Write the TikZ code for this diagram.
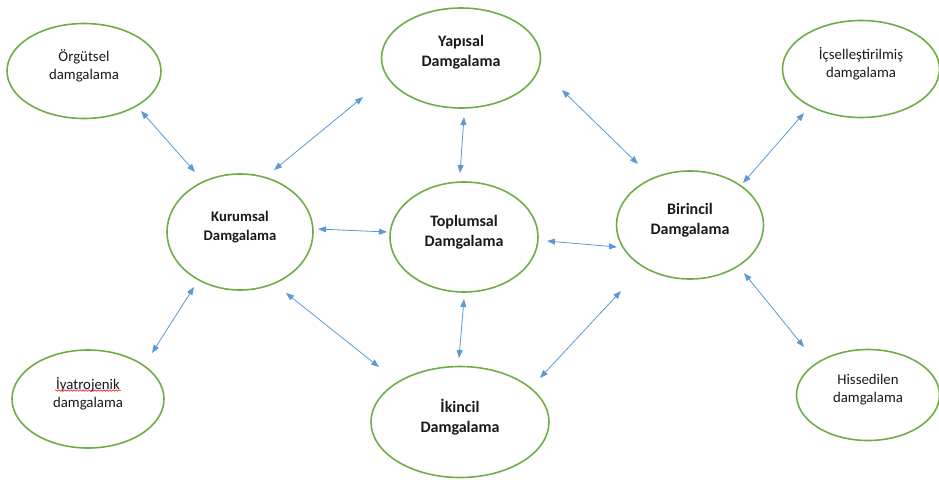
\documentclass[tikz,border=0pt]{standalone}
\usepackage{fontspec}
\setmainfont{Carlito}
\usetikzlibrary{shapes.geometric,arrows.meta,decorations.pathmorphing}
\definecolor{ellgreen}{HTML}{70AD47}
\definecolor{arrblue}{HTML}{5B9BD5}
\definecolor{txtgray}{HTML}{1A1A1A}
\begin{document}
\begin{tikzpicture}[x=1pt,y=-1pt,
  ell/.style={ellipse,draw=ellgreen,line width=1.6pt,inner sep=0pt},
  reg/.style={align=center,text=txtgray,font=\fontsize{14.8}{18}\selectfont},
  bld/.style={align=center,text=txtgray,font=\fontsize{16}{20}\selectfont\bfseries},
  bldsm/.style={align=center,text=txtgray,font=\fontsize{14.7}{18.5}\selectfont\bfseries},
  conn/.style={draw=arrblue,line width=0.8pt,{Triangle[length=8pt,width=6pt]}-{Triangle[length=8pt,width=6pt]}}]
\useasboundingbox (0,0) rectangle (939,479);
\fill[white] (0,0) rectangle (939,479);
% ellipses
\node[ell,minimum width=154pt,minimum height=95pt] (org) at (84,71) {};
\node[ell,minimum width=159pt,minimum height=100pt] (yap) at (461,58) {};
\node[ell,minimum width=157pt,minimum height=97pt] (ics) at (861,69) {};
\node[ell,minimum width=146pt,minimum height=116pt] (kur) at (240,232) {};
\node[ell,minimum width=148pt,minimum height=110pt] (top) at (464,237) {};
\node[ell,minimum width=147pt,minimum height=108pt] (bir) at (690,225) {};
\node[ell,minimum width=152pt,minimum height=98pt] (iya) at (88,399) {};
\node[ell,minimum width=178pt,minimum height=111pt] (ikn) at (460,422) {};
\node[ell,minimum width=143pt,minimum height=91pt] (his) at (868,395) {};
% texts
\node[reg] (orgT) at ([yshift=5pt]org.center) {Örgütsel\\damgalama};
\node[bld] (yapT) at ([yshift=6pt]yap.center) {Yapısal\\Damgalama};
\node[reg] (icsT) at ([yshift=5pt]ics.center) {İçselleştirilmiş\\damgalama};
\node[bldsm] (kurT) at ([yshift=5pt]kur.center) {Kurumsal\\Damgalama};
\node[bld] (topT) at ([yshift=5pt]top.center) {Toplumsal\\Damgalama};
\node[bld] (birT) at ([yshift=5pt]bir.center) {Birincil\\Damgalama};
\node[reg] (iyaT) at ([yshift=5pt]iya.center) {İyatrojenik\\damgalama};
\node[bld] (iknT) at ([yshift=5pt]ikn.center) {İkincil\\Damgalama};
\node[reg] (hisT) at ([yshift=5pt]his.center) {Hissedilen\\damgalama};
% spell-check squiggle
\draw[red,line width=0.5pt,decorate,decoration={snake,amplitude=0.8pt,segment length=3pt}]
  ([xshift=-33pt,yshift=8.5pt]iya.center) -- ++(66,0);
% connector end points
\coordinate (a1) at (141,111); \coordinate (b1) at (195,172);
\coordinate (a2) at (274,170); \coordinate (b2) at (363,97);
\coordinate (a3) at (464,117); \coordinate (b3) at (460,173);
\coordinate (a4) at (562,90);  \coordinate (b4) at (638,164);
\coordinate (a5) at (804,113); \coordinate (b5) at (743,183);
\coordinate (a6) at (318,229); \coordinate (b6) at (387,232);
\coordinate (a7) at (547,241); \coordinate (b7) at (617,247);
\coordinate (a8) at (152,353); \coordinate (b8) at (194,287);
\coordinate (a9) at (286,293); \coordinate (b9) at (379,367);
\coordinate (a10) at (464,299); \coordinate (b10) at (459,358);
\coordinate (a11) at (621,291); \coordinate (b11) at (540,378);
\coordinate (a12) at (744,273); \coordinate (b12) at (804,347);
\foreach \i in {1,...,12} {\draw[conn] (a\i) -- (b\i);}
\end{tikzpicture}
\end{document}
